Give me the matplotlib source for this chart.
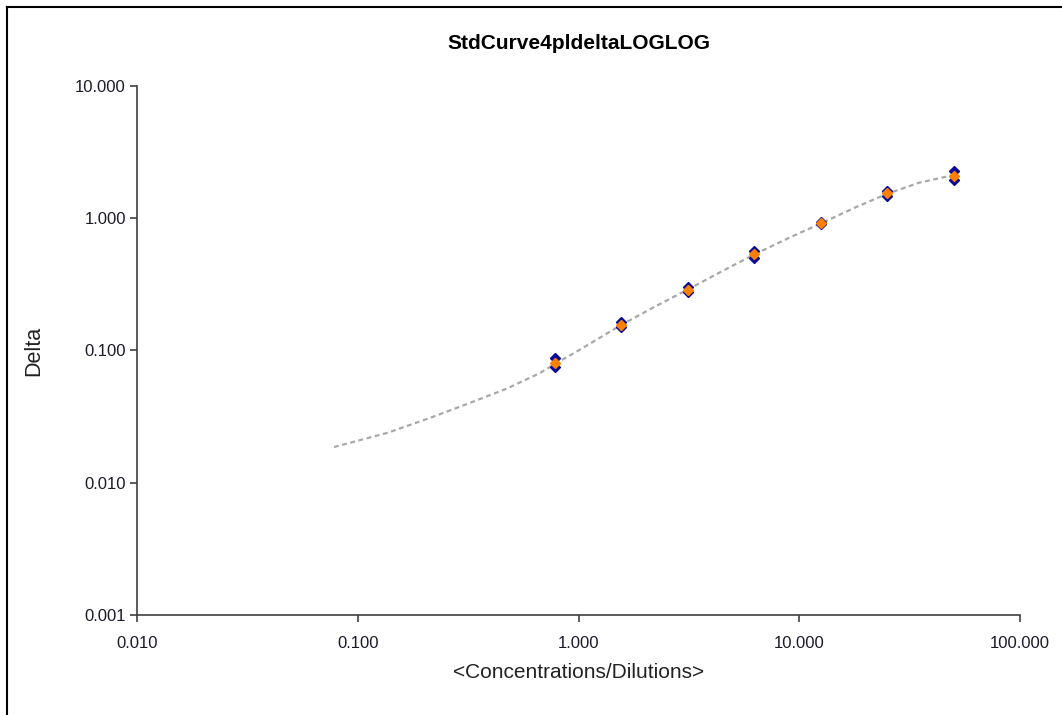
import matplotlib.pyplot as plt
from matplotlib.lines import Line2D
from matplotlib.ticker import FuncFormatter

plt.rcParams['font.family'] = ['Liberation Sans', 'DejaVu Sans']

# standards: dilution series, two replicates each
conc = [0.78125, 1.5625, 3.125, 6.25, 12.5, 25.0, 50.0]
rep1 = [0.088, 0.165, 0.300, 0.570, 0.930, 1.60, 2.27]
rep2 = [0.075, 0.150, 0.278, 0.500, 0.900, 1.48, 1.95]
mean = [0.081, 0.157, 0.289, 0.535, 0.915, 1.54, 2.10]

# fitted 4PL curve
curve_x = [0.078, 0.136, 0.2125, 0.322, 0.474, 0.669, 0.78125, 1.0, 1.5625,
           2.2, 3.125, 4.5, 6.25, 9.0, 12.5, 18.0, 25.0, 35.0, 50.0]
curve_y = [0.0186, 0.0238, 0.0309, 0.0401, 0.0515, 0.0675, 0.0790, 0.100,
           0.156, 0.213, 0.289, 0.400, 0.532, 0.712, 0.912, 1.21, 1.53,
           1.86, 2.12]

xticks = [0.01, 0.1, 1, 10, 100]
yticks = [0.001, 0.01, 0.1, 1, 10]

fig = plt.figure(figsize=(10.62, 7.15), dpi=100)
ax = fig.add_axes([0.129, 0.140, 0.8315, 0.7397])

ax.plot(curve_x, curve_y, color='#a8a8a8', linestyle=(0, (2.2, 1.6)), linewidth=1.6)
ax.plot(conc, rep1, linestyle='none', marker='D', markersize=5, color='#0a0a96',
        markeredgecolor='#0a0a96')
ax.plot(conc, rep2, linestyle='none', marker='D', markersize=5, color='#0a0a96',
        markeredgecolor='#0a0a96')
ax.plot(conc, mean, linestyle='none', marker='D', markersize=5.5, color='#ff8000',
        markeredgecolor='#ff8000')

ax.set_xscale('log')
ax.set_yscale('log')
ax.set_xlim(0.01, 100)
ax.set_ylim(0.001, 10)
ax.set_xticks(xticks)
ax.set_yticks(yticks)
ax.minorticks_off()
fmt = FuncFormatter(lambda v, p: '%.3f' % v)
ax.xaxis.set_major_formatter(fmt)
ax.yaxis.set_major_formatter(fmt)

for s in ['top', 'right']:
    ax.spines[s].set_visible(False)
for s in ['left', 'bottom']:
    ax.spines[s].set_color('#404040')
    ax.spines[s].set_linewidth(1.2)
ax.tick_params(direction='out', length=5, width=1.2, color='#404040',
               labelsize=12, labelcolor='#1a1a2a')
ax.tick_params(axis='y', pad=3)
ax.tick_params(axis='x', pad=10)

ax.set_title('StdCurve4pldeltaLOGLOG', fontsize=15, fontweight='bold', pad=27)
ax.set_xlabel('<Concentrations/Dilutions>', fontsize=15, color='#222222', labelpad=9)
ax.set_ylabel('Delta', fontsize=15.5, color='#222222', labelpad=22)

# frame lines on the left and top of the picture
fig.add_artist(Line2D([0.0066, 0.0066], [0, 0.990], color='black', linewidth=1.5))
fig.add_artist(Line2D([0.0066, 1], [0.990, 0.990], color='black', linewidth=1.5))

fig.savefig('out.png', dpi=100)
